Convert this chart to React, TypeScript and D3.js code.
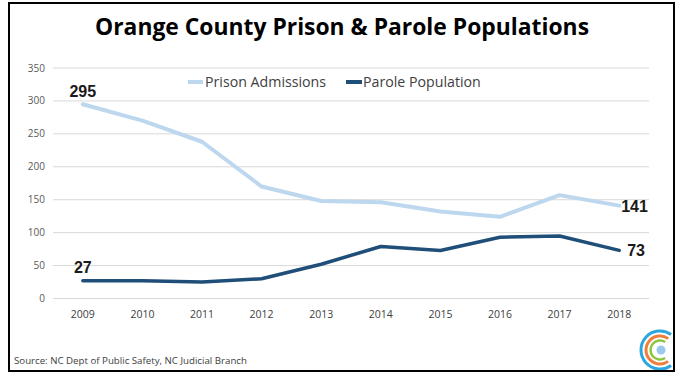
import React from "react";
import * as d3 from "d3";

const years = ["2009", "2010", "2011", "2012", "2013", "2014", "2015", "2016", "2017", "2018"];
const prisonAdmissions = [295, 270, 238, 170, 148, 146, 132, 124, 157, 141];
const parolePopulation = [27, 27, 25, 30, 52, 79, 73, 93, 95, 73];
const yTicks = [0, 50, 100, 150, 200, 250, 300, 350];
const seriesNames = ["Prison Admissions", "Parole Population"];
const title = "Orange County Prison & Parole Populations";
const source = "Source: NC Dept of Public Safety, NC Judicial Branch";

const W = 683;
const H = 378;
const LIGHT = "#BDD7EE";
const DARK = "#1F4E79";

export default function App() {
  const x = d3.scaleBand().domain(years).range([53, 649]);
  const y = d3.scaleLinear().domain([0, 350]).range([298.5, 68]);
  const cx = (yr: string) => (x(yr) as number) + x.bandwidth() / 2;
  const line = d3
    .line<number>()
    .x((_, i) => cx(years[i]))
    .y((d) => y(d));

  const last = years.length - 1;
  const arc = (r: number, gap: number) =>
    d3.arc()({
      innerRadius: r,
      outerRadius: r,
      startAngle: Math.PI / 2 + gap,
      endAngle: Math.PI / 2 + 2 * Math.PI - gap,
    }) as string;

  return (
    <svg width={W} height={H} style={{ position: "absolute", left: 0, top: 0 }}>
      <rect x={0} y={0} width={W} height={H} fill="#fff" />
      <text
        x={342}
        y={35}
        textAnchor="middle"
        fontFamily="'Liberation Sans Narrow', 'Open Sans', sans-serif"
        fontWeight="bold"
        fontSize={23.5}
        textLength={494}
        lengthAdjust="spacingAndGlyphs"
        fill="#000"
      >
        {title}
      </text>

      {yTicks.map((t) => (
        <g key={t}>
          <line x1={53} x2={649} y1={y(t)} y2={y(t)} stroke="#D9D9D9" strokeWidth={1} />
          <text
            x={45}
            y={y(t) + 3.5}
            textAnchor="end"
            fontFamily="'Open Sans', sans-serif"
            fontSize={10}
            fill="#595959"
          >
            {t}
          </text>
        </g>
      ))}

      {years.map((yr) => (
        <text
          key={yr}
          x={cx(yr)}
          y={318}
          textAnchor="middle"
          fontFamily="'Open Sans', sans-serif"
          fontSize={10.5}
          fill="#404040"
        >
          {yr}
        </text>
      ))}

      <path d={line(prisonAdmissions) as string} fill="none" stroke={LIGHT} strokeWidth={4} strokeLinejoin="round" strokeLinecap="round" />
      <path d={line(parolePopulation) as string} fill="none" stroke={DARK} strokeWidth={3.5} strokeLinejoin="round" strokeLinecap="round" />

      {/* legend */}
      <line x1={188} x2={203} y1={82} y2={82} stroke={LIGHT} strokeWidth={4} />
      <text x={205} y={87} fontFamily="'Open Sans', sans-serif" fontSize={14.2} fill="#404040">
        {seriesNames[0]}
      </text>
      <line x1={346} x2={362} y1={82} y2={82} stroke={DARK} strokeWidth={4} />
      <text x={363} y={87} fontFamily="'Open Sans', sans-serif" fontSize={14.2} fill="#404040">
        {seriesNames[1]}
      </text>

      {/* data labels */}
      <g fontFamily="'Liberation Sans', Arial, sans-serif" fontWeight="bold" fontSize={16} fill="#1a1a1a">
        <text x={cx(years[0])} y={y(prisonAdmissions[0]) - 7} textAnchor="middle">{prisonAdmissions[0]}</text>
        <text x={cx(years[0])} y={y(parolePopulation[0]) - 8} textAnchor="middle">{parolePopulation[0]}</text>
        <text x={cx(years[last]) + 2} y={y(prisonAdmissions[last]) + 6} textAnchor="start">{prisonAdmissions[last]}</text>
        <text x={cx(years[last]) + 8} y={y(parolePopulation[last]) + 6} textAnchor="start">{parolePopulation[last]}</text>
      </g>

      <text x={14} y={364} fontFamily="'Open Sans', sans-serif" fontSize={9.7} fill="#404040">
        {source}
      </text>

      {/* logo */}
      <g transform="translate(660,350)">
        <path d={arc(19, 0.95)} fill="none" stroke="#2BA6DE" strokeWidth={3} />
        <path d={arc(14, 0.95)} fill="none" stroke="#EE7E3C" strokeWidth={3} />
        <path d={arc(9.5, 1.0)} fill="none" stroke="#8CC63F" strokeWidth={2.5} />
        <circle cx={1} cy={0} r={4.5} fill="#9CC8EE" />
      </g>

      <rect x={9} y={3} width={665} height={368} fill="none" stroke="#000" strokeWidth={2} />
    </svg>
  );
}
